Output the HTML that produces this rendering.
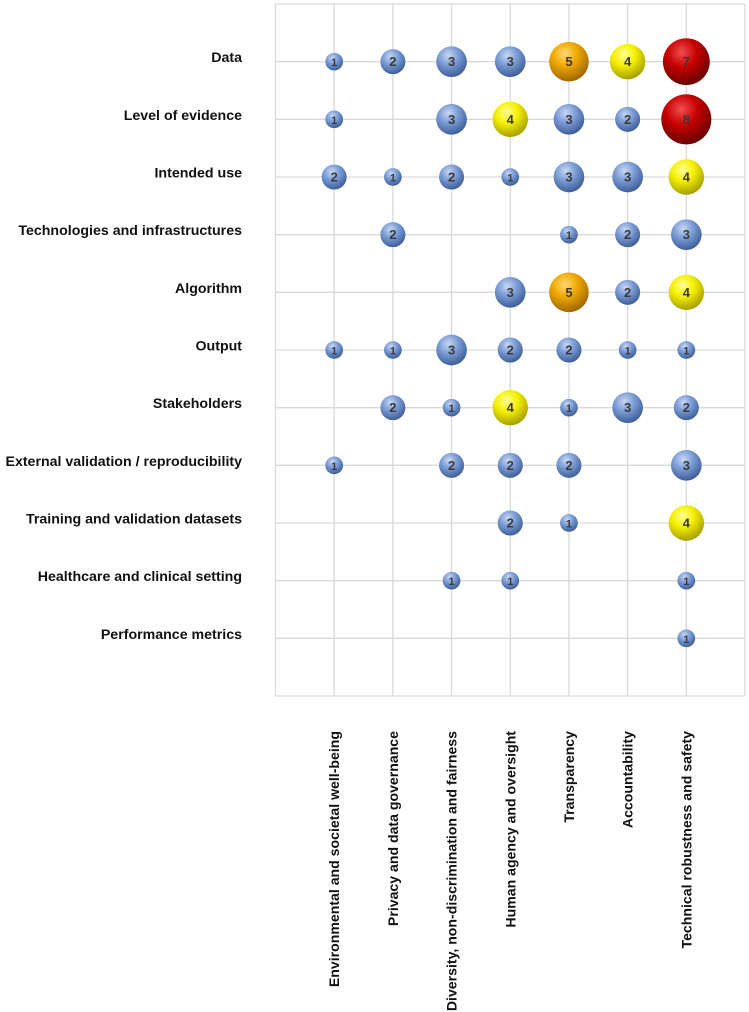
<!DOCTYPE html>
<html><head><meta charset="utf-8"><style>
body{margin:0;background:#fff;}
svg{display:block;font-family:"Liberation Sans",Arial,sans-serif;}
</style></head><body>
<svg id="chart" width="749" height="1012">
<defs>
<radialGradient id="gblue" cx="40%" cy="30%" r="70%"><stop offset="0" stop-color="#c9d8f2"/><stop offset="0.45" stop-color="#7c9dd6"/><stop offset="1" stop-color="#3f5f9a"/></radialGradient>
<radialGradient id="gyellow" cx="40%" cy="30%" r="70%"><stop offset="0" stop-color="#ffff9a"/><stop offset="0.45" stop-color="#f5f000"/><stop offset="1" stop-color="#a8a000"/></radialGradient>
<radialGradient id="gorange" cx="40%" cy="30%" r="70%"><stop offset="0" stop-color="#ffd877"/><stop offset="0.45" stop-color="#f0a800"/><stop offset="1" stop-color="#a06800"/></radialGradient>
<radialGradient id="gred" cx="40%" cy="30%" r="70%"><stop offset="0" stop-color="#f05050"/><stop offset="0.45" stop-color="#c80000"/><stop offset="1" stop-color="#6a0000"/></radialGradient>
</defs>
<g id="grid"></g><g id="labels"></g><g id="bubbles"></g>
</svg>
<script>
const rowLabels = ["Data","Level of evidence","Intended use","Technologies and infrastructures","Algorithm","Output","Stakeholders","External validation / reproducibility","Training and validation datasets","Healthcare and clinical setting","Performance metrics"];
const colLabels = ["Environmental and societal well-being","Privacy and data governance","Diversity, non-discrimination and fairness","Human agency and oversight","Transparency","Accountability","Technical robustness and safety"];
const values = [
 [1,2,3,3,5,4,7],
 [1,0,3,4,3,2,8],
 [2,1,2,1,3,3,4],
 [0,2,0,0,1,2,3],
 [0,0,0,3,5,2,4],
 [1,1,3,2,2,1,1],
 [0,2,1,4,1,3,2],
 [1,0,2,2,2,0,3],
 [0,0,0,2,1,0,4],
 [0,0,1,1,0,0,1],
 [0,0,0,0,0,0,1]
];
const NS="http://www.w3.org/2000/svg";
const L=275.5,R=745,T=4,B=696;
const nC=colLabels.length+1, nR=rowLabels.length+1;
const xS=i=>L+(i+1)*(R-L)/nC;
const yS=j=>T+(j+1)*(B-T)/nR;
const rS=v=>8.85*Math.sqrt(v);
function mk(tag,attrs,parent){const e=document.createElementNS(NS,tag);for(const k in attrs)e.setAttribute(k,attrs[k]);parent.appendChild(e);return e;}
const grid=document.getElementById('grid'),labels=document.getElementById('labels'),bub=document.getElementById('bubbles');
for(let i=-1;i<nC;i++){const x=xS(i);const l=mk('line',{x1:x,x2:x,y1:T,y2:B,stroke:'#d9d9d9','stroke-width':1.3},grid);

}
for(let j=-1;j<nR;j++){const y=yS(j);const l=mk('line',{x1:L,x2:R,y1:y,y2:y,stroke:'#d9d9d9','stroke-width':1.3},grid);

}
rowLabels.forEach((t,j)=>{const e=mk('text',{x:242,y:yS(j)+0.5,'text-anchor':'end','font-size':14.2,'font-weight':'bold',fill:'#111'},labels);e.textContent=t;

});
colLabels.forEach((t,i)=>{const x=xS(i)+5,y=731;const e=mk('text',{x:x,y:y,'text-anchor':'end','font-size':14.1,'font-weight':'bold',fill:'#111',transform:`rotate(-90 ${x} ${y})`},labels);e.textContent=t;

});
function fillFor(v){return v>=7?'url(#gred)':v>=5?'url(#gorange)':v>=4?'url(#gyellow)':'url(#gblue)';}
values.forEach((row,j)=>row.forEach((v,i)=>{if(!v)return;
const g=mk('g',{},bub);


mk('circle',{cx:xS(i),cy:yS(j),r:rS(v),fill:fillFor(v)},g);
const t=mk('text',{x:xS(i),y:yS(j)+4.5,'text-anchor':'middle','font-size':v>=2?13:11,'font-weight':'bold',fill:'#3a3a3a'},g);t.textContent=v;
}));
</script>
</body></html>
